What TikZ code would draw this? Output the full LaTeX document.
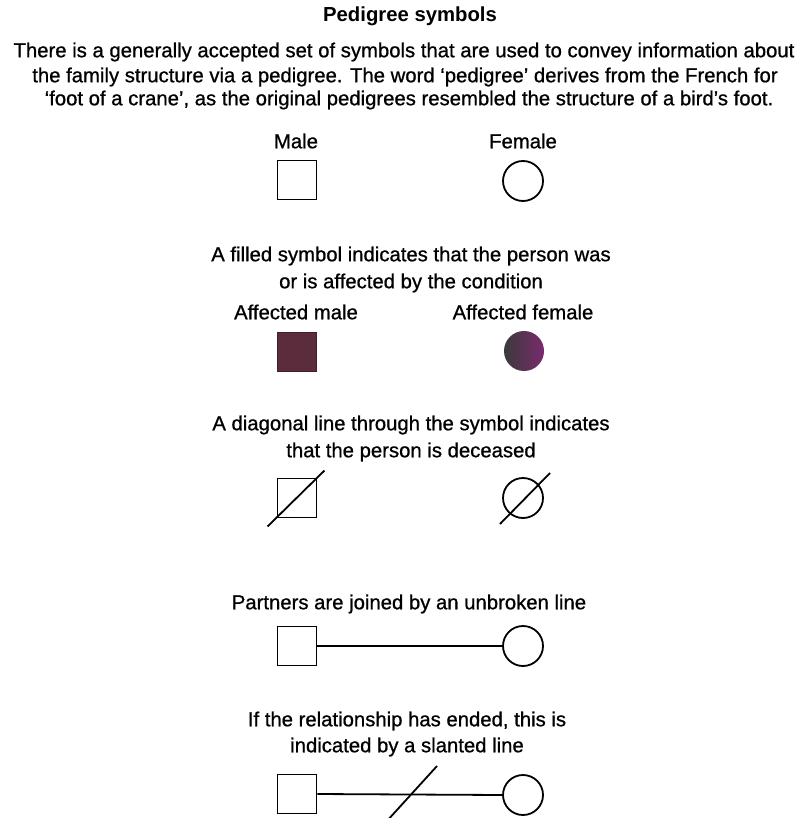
\documentclass[tikz,border=0pt]{standalone}
\usepackage{fontspec}
\setmainfont{Liberation Sans}
\newfontfamily\heavyfont[Ligatures=TeX,FakeBold=0.8]{Liberation Sans}
\usetikzlibrary{calc}
\definecolor{affm}{HTML}{5A2C3C}
\definecolor{afffL}{HTML}{3A3A3A}
\definecolor{afffR}{HTML}{7A2A6E}
\tikzset{
  txt/.style={font=\heavyfont\fontsize{20.3}{23}\selectfont, inner sep=0pt, anchor=center},
  ttl/.style={font=\fontsize{20.3}{23}\selectfont\bfseries, inner sep=0pt},
  msq/.style={draw, line width=1.8pt, minimum size=39pt, inner sep=0pt},
  fci/.style={draw, circle, line width=1.8pt, minimum size=40pt, inner sep=0pt},
  lnk/.style={line width=1.8pt},
}
\begin{document}
\begin{tikzpicture}[x=1pt,y=-1pt]
\useasboundingbox (0,0) rectangle (810,818);
\fill[white] (0,0) rectangle (810,818);
\clip (0,0) rectangle (810,818);
% heading
\node[ttl] (title) at (410,16) {Pedigree symbols};
\node[txt] (p1) at (404,52) {There is a generally accepted set of symbols that are used to convey information about};
\node[txt] (p2) at (405,77) {the family structure via a pedigree. The word ‘pedigree’ derives from the French for};
\node[txt] (p3) at (409,100) {‘foot of a crane’, as the original pedigrees resembled the structure of a bird’s foot.};
% basic
\node[txt] (lm) at (296,141) {Male};
\node[txt] (lf) at (523,141) {Female};
\node[msq] (m1) at (297,180) {};
\node[fci] (f1) at (523,181) {};
% affected
\node[txt] (a1) at (411,256) {A filled symbol indicates that the person was};
\node[txt] (a2) at (411,283) {or is affected by the condition};
\node[txt] (lam) at (296,312) {Affected male};
\node[txt] (laf) at (523,312) {Affected female};
\node[msq, fill=affm, draw=affm!70!black] (m2) at (297,352) {};
\node[fci, draw=none, left color=afffL, right color=afffR] (f2) at (524,351) {};
% deceased
\node[txt] (d1) at (411,425) {A diagonal line through the symbol indicates};
\node[txt] (d2) at (411,452) {that the person is deceased};
\node[msq] (m3) at (297,498) {};
\node[fci] (f3) at (523,498) {};
\draw[lnk] ($(m3.south west)+(-9,8)$) -- ($(m3.north east)+(7,-7)$);
\draw[lnk] ($(f3.center)+(-23,26)$) -- ($(f3.center)+(27,-25)$);
% partners
\node[txt] (q1) at (409,604) {Partners are joined by an unbroken line};
\node[msq] (m4) at (297,646) {};
\node[fci] (f4) at (523,646) {};
\draw[lnk] (m4.east) -- (f4.west);
% ended
\node[txt] (e1) at (407,721) {If the relationship has ended, this is};
\node[txt] (e2) at (407,747) {indicated by a slanted line};
\node[msq] (m5) at (297,794) {};
\node[fci] (f5) at (523,795) {};
\draw[lnk] (m5.east) -- (f5.west);
\coordinate (s1) at (386,822);
\coordinate (s2) at (437,766);
\draw[lnk] (s1) -- (s2);
\end{tikzpicture}
\end{document}
